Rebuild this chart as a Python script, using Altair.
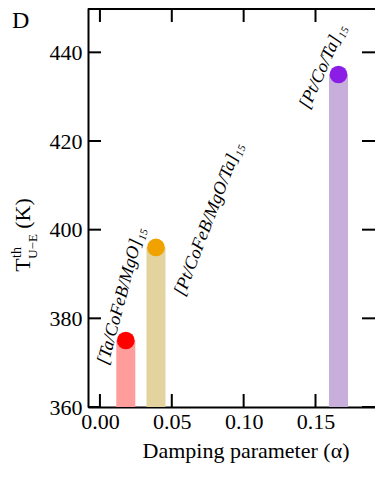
import altair as alt
import pandas as pd

# ---- data ----
samples = ["[Ta/CoFeB/MgO]₁₅", "[Pt/CoFeB/MgO/Ta]₁₅", "[Pt/Co/Ta]₁₅"]
damping = [0.018, 0.039, 0.166]
temperature = [375, 396, 435]
bar_colors = ["#ff9c9c", "#e3d39e", "#c8afdb"]
point_colors = ["#ff0000", "#f0a300", "#8b1de6"]

x_ticks = [0.00, 0.05, 0.10, 0.15]
y_ticks = [360, 380, 400, 420, 440]

# annotation anchors (data coordinates) and angles
label_x = [0.0056, 0.0587, 0.1455]
label_y = [369.3, 384.8, 427.0]
label_angle = [285, 291, 294]

# y-axis title pieces: T, superscript "th", subscript "U−E", "(K)"
ytitle_text = ["T", "th", "U−E", "(K)"]
ytitle_x = [-0.0487, -0.0549, -0.0438, -0.0487]
ytitle_y = [392.0, 394.85, 396.2, 403.65]
ytitle_size = [22, 14, 13, 22]

W, H = 287, 399
FONT = "Liberation Serif"
TICK = 13

df = pd.DataFrame({
    "sample": samples, "alpha": damping, "temp": temperature,
    "bar_color": bar_colors, "point_color": point_colors,
    "lx": label_x, "ly": label_y, "angle": label_angle,
})
yt_df = pd.DataFrame({"t": ytitle_text, "x": ytitle_x, "y": ytitle_y,
                      "s": ytitle_size, "a": [270] * 4})
xt = pd.DataFrame({"v": x_ticks})
yt = pd.DataFrame({"v": y_ticks})

xscale = alt.Scale(domain=[-0.0083, 0.1914], nice=False, zero=False)
yscale = alt.Scale(domain=[360, 450], nice=False, zero=False)

xaxis = alt.Axis(values=x_ticks, format=".2f", title=None, ticks=False, grid=False,
                 domainColor="black", domainWidth=2, labelFont=FONT, labelFontSize=22,
                 labelColor="black", labelPadding=4)
yaxis = alt.Axis(values=y_ticks, title=None, ticks=False, grid=False,
                 domainColor="black", domainWidth=2, labelFont=FONT, labelFontSize=22,
                 labelColor="black", labelPadding=6)

bars = alt.Chart(df).mark_rule(strokeWidth=19).encode(
    x=alt.X("alpha:Q", scale=xscale, axis=xaxis),
    y=alt.Y("temp:Q", scale=yscale, axis=yaxis),
    y2=alt.datum(360),
    color=alt.Color("bar_color:N", scale=None),
)

points = alt.Chart(df).mark_circle(size=314, opacity=1).encode(
    x=alt.X("alpha:Q", scale=xscale),
    y=alt.Y("temp:Q", scale=yscale),
    color=alt.Color("point_color:N", scale=None),
)

labels = alt.Chart(df).mark_text(font=FONT, fontStyle="italic", fontSize=18,
                                 align="left", baseline="alphabetic", color="black").encode(
    x=alt.X("lx:Q", scale=xscale),
    y=alt.Y("ly:Q", scale=yscale),
    angle=alt.Angle("angle:Q", scale=None),
    text="sample:N",
)

ytitle = alt.Chart(yt_df).mark_text(font=FONT, align="center", baseline="alphabetic",
                                    color="black").encode(
    x=alt.X("x:Q", scale=xscale),
    y=alt.Y("y:Q", scale=yscale),
    angle=alt.Angle("a:Q", scale=None),
    size=alt.Size("s:Q", scale=None, legend=None),
    text="t:N",
)

# inward ticks on all four sides
bottom_ticks = alt.Chart(xt).mark_rule(color="black", strokeWidth=2).encode(
    x=alt.X("v:Q", scale=xscale), y=alt.value(H), y2=alt.value(H - TICK))
top_ticks = alt.Chart(xt).mark_rule(color="black", strokeWidth=2).encode(
    x=alt.X("v:Q", scale=xscale), y=alt.value(1), y2=alt.value(1 + TICK))
left_ticks = alt.Chart(yt).mark_rule(color="black", strokeWidth=2).encode(
    y=alt.Y("v:Q", scale=yscale), x=alt.value(0), x2=alt.value(TICK))
right_ticks = alt.Chart(yt).mark_rule(color="black", strokeWidth=2).encode(
    y=alt.Y("v:Q", scale=yscale), x=alt.value(W - TICK), x2=alt.value(W))

one = alt.Data(values=[{}])
top_line = alt.Chart(one).mark_rule(color="black", strokeWidth=2).encode(
    x=alt.value(0), x2=alt.value(W), y=alt.value(1))


def txt(s, x, y, size, align="center"):
    return alt.Chart(one).mark_text(
        text=s, font=FONT, fontSize=size, align=align, baseline="alphabetic",
        color="black").encode(x=alt.value(x), y=alt.value(y))


panel = txt("D", -76, 20, 24, align="left")
x_title = txt("Damping parameter (α)", 158, 450, 22)

chart = alt.layer(
    bars, points, labels, ytitle, bottom_ticks, top_ticks, left_ticks, right_ticks,
    top_line, panel, x_title,
).properties(
    width=W, height=H,
    autosize=alt.AutoSizeParams(type="none"),
    padding={"left": 80, "top": 0, "right": 0, "bottom": 57},
).configure_view(stroke=None)

chart.save("out.html", embed_options={"renderer": "svg", "actions": False})
